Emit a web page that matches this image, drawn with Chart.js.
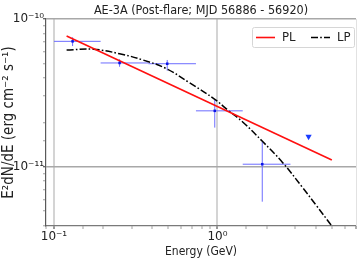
<!DOCTYPE html>
<html><head><meta charset="utf-8">
<script src="https://cdn.jsdelivr.net/npm/chart.js@4/dist/chart.umd.min.js"></script>
<style>html,body{margin:0;padding:0;background:#fff}#wrap{width:360px;height:263px}</style>
</head><body><div id="wrap"><canvas id="c" width="360" height="263"></canvas></div>
<script>
// ---- data ----
const titleText = 'AE-3A (Post-flare; MJD 56886 - 56920)';
const xTitle = 'Energy (GeV)';
const yTitle = 'E²dN/dE (erg cm⁻² s⁻¹)';
const energy     = [0.130, 0.252, 0.493, 0.963, 1.88];
const energyLow  = [0.100, 0.193, 0.378, 0.739, 1.428];
const energyHigh = [0.193, 0.378, 0.739, 1.428, 2.797];
const flux       = [7.06e-11, 5.04e-11, 4.98e-11, 2.39e-11, 1.04e-11];
const fluxLow    = [6.56e-11, 4.75e-11, 4.47e-11, 1.84e-11, 5.80e-12];
const fluxHigh   = [7.52e-11, 5.34e-11, 5.28e-11, 2.83e-11, 1.48e-11];
const ulEnergy = [3.61];
const ulFlux   = [1.60e-11];
const plEnergy = [0.1195, 5.01];
const plFlux   = [7.67e-11, 1.11e-11];
const lpEnergy = [0.1195, 0.174, 0.252, 0.350, 0.486, 0.675, 0.959, 1.156, 1.427, 1.89, 2.50, 3.31, 4.00, 5.01];
const lpFlux   = [6.17e-11, 6.24e-11, 5.82e-11, 5.28e-11, 4.62e-11, 3.70e-11, 2.87e-11, 2.42e-11, 2.01e-11, 1.48e-11, 1.07e-11, 7.25e-12, 5.52e-12, 3.97e-12];
const xMajorTicks  = [0.1, 1];
const xMajorLabels = ['10⁻¹', '10⁰'];
const yMajorTicks  = [1e-11, 1e-10];
const yMajorLabels = ['10⁻¹¹', '10⁻¹⁰'];
const xRange = [0.0894, 7.04];
const yRange = [3.97e-12, 1e-10];

// ---- helpers ----
const FONT = "'DejaVu Sans Condensed', 'DejaVu Sans', sans-serif";
const TFONT = "'DejaVu Sans', sans-serif";
function majorIndex(list, v){
  for (let i=0;i<list.length;i++){ if (Math.abs(v/list[i]-1) < 1e-6) return i; }
  return -1;
}
const pts = (xs, ys) => xs.map((x,i)=>({x:x, y:ys[i]}));
const xErr = []; energy.forEach((e,i)=>{ xErr.push({x:energyLow[i],y:flux[i]},{x:energyHigh[i],y:flux[i]},{x:e,y:null}); });
const yErr = []; energy.forEach((e,i)=>{ yErr.push({x:e,y:fluxLow[i]},{x:e,y:fluxHigh[i]},{x:e,y:null}); });

const legendPlugin = {
  id: 'insideLegend',
  afterDatasetsDraw(chart){
    const ctx = chart.ctx, a = chart.chartArea;
    ctx.save();
    // faint right spine
    ctx.strokeStyle = '#e2e2e2'; ctx.lineWidth = 1;
    ctx.beginPath(); ctx.moveTo(a.right+0.5, a.top); ctx.lineTo(a.right+0.5, a.bottom); ctx.stroke();
    const items = chart.data.datasets.filter(d=>d.inLegend);
    const x0 = a.right - 104, y0 = a.top + 8, w = 102, h = 20;
    ctx.beginPath();
    if (ctx.roundRect) ctx.roundRect(x0+0.5, y0+0.5, w, h, 2); else ctx.rect(x0+0.5,y0+0.5,w,h);
    ctx.fillStyle = 'rgba(255,255,255,0.85)'; ctx.fill();
    ctx.strokeStyle = '#d6d6d6'; ctx.lineWidth = 1; ctx.stroke();
    const ly = y0 + h/2 + 0.5;
    items.forEach((d,i)=>{
      const lx = x0 + 4 + i*55;
      ctx.beginPath();
      ctx.setLineDash(d.borderDash || []);
      ctx.strokeStyle = d.borderColor; ctx.lineWidth = d.borderWidth;
      ctx.moveTo(lx, ly); ctx.lineTo(lx+19, ly); ctx.stroke();
      ctx.setLineDash([]);
      ctx.fillStyle = '#222'; ctx.font = '13px ' + FONT;
      ctx.textBaseline = 'middle'; ctx.textAlign = 'left';
      ctx.fillText(d.label, lx + 26, ly + 0.5);
    });
    ctx.restore();
  }
};

new Chart(document.getElementById('c'), {
  type: 'scatter',
  data: { datasets: [
    { label:'data', data: pts(energy, flux), pointStyle:'rect', pointRadius:1.8, pointBackgroundColor:'#0a14e6', pointBorderColor:'#0a14e6', pointBorderWidth:0, showLine:false, order:0 },
    { label:'UL', data: pts(ulEnergy, ulFlux), pointStyle:'triangle', rotation:180, pointRadius:3.6, pointBackgroundColor:'#1a3cff', pointBorderColor:'#1a3cff', pointBorderWidth:0, showLine:false, order:0 },
    { label:'PL', inLegend:true, data: pts(plEnergy, plFlux), showLine:true, borderColor:'#ff1010', borderWidth:1.6, pointRadius:0, fill:false, order:1 },
    { label:'LP', inLegend:true, data: pts(lpEnergy, lpFlux), showLine:true, borderColor:'#000000', borderWidth:1.5, borderDash:[7,2.2,1.6,2.2], pointRadius:0, tension:0.4, fill:false, order:2 },
    { label:'xerr', data: xErr, showLine:true, spanGaps:false, borderColor:'#6c6cff', borderWidth:1, pointRadius:0, order:3 },
    { label:'yerr', data: yErr, showLine:true, spanGaps:false, borderColor:'#6c6cff', borderWidth:1, pointRadius:0, order:3 }
  ]},
  options: {
    responsive:false, animation:false, devicePixelRatio:1,
    layout:{ padding:{ top:0, right:3, left:0, bottom:0 } },
    plugins:{
      legend:{ display:false }, tooltip:{ enabled:false },
      title:{ display:true, text:titleText, fullSize:false, color:'#222', font:{ family:FONT, size:12.5, weight:'normal', lineHeight:1.2 }, padding:{ top:3.5, bottom:0.5 } }
    },
    scales:{
      x:{
        type:'logarithmic', min:xRange[0], max:xRange[1],
        border:{ color:'#7a7a7a', width:1.2 },
        grid:{
          color: c => (c.tick && majorIndex(xMajorTicks, c.tick.value) >= 0) ? '#d4d4d4' : 'rgba(0,0,0,0)',
          lineWidth: 2, tickLength: 3,
          tickColor: c => (c.tick && majorIndex(xMajorTicks, c.tick.value) >= 0) ? '#333' : '#777',
          tickWidth: c => (c.tick && majorIndex(xMajorTicks, c.tick.value) >= 0) ? 1 : 0.7
        },
        ticks:{ autoSkip:false, maxRotation:0, color:'#222', padding:1, font:{ family:TFONT, size:12 },
          callback: v => { const i = majorIndex(xMajorTicks, v); return i >= 0 ? xMajorLabels[i] : ''; } },
        title:{ display:true, text:xTitle, color:'#222', font:{ family:FONT, size:12 }, padding:{ top:0, bottom:4 } },
        afterFit: s => { s.height = 37; }
      },
      y:{
        type:'logarithmic', min:yRange[0], max:yRange[1],
        border:{ color:'#5a5a5a', width:1.2 },
        grid:{
          color: c => (c.tick && majorIndex(yMajorTicks, c.tick.value) >= 0) ? '#a8a8a8' : 'rgba(0,0,0,0)',
          lineWidth: 1.5, tickLength: 3,
          tickColor: c => (c.tick && majorIndex(yMajorTicks, c.tick.value) >= 0) ? '#333' : '#777',
          tickWidth: c => (c.tick && majorIndex(yMajorTicks, c.tick.value) >= 0) ? 1 : 0.7
        },
        ticks:{ autoSkip:false, color:'#222', padding:-1, font:{ family:TFONT, size:12 },
          callback: v => { const i = majorIndex(yMajorTicks, v); return i >= 0 ? yMajorLabels[i] : ''; } },
        title:{ display:true, text:yTitle, color:'#222', font:{ family:FONT, size:15 }, padding:{ top:0.5, bottom:0 } },
        afterFit: s => { s.width = 46; }
      }
    }
  },
  plugins:[legendPlugin]
});
</script>
</body></html>
